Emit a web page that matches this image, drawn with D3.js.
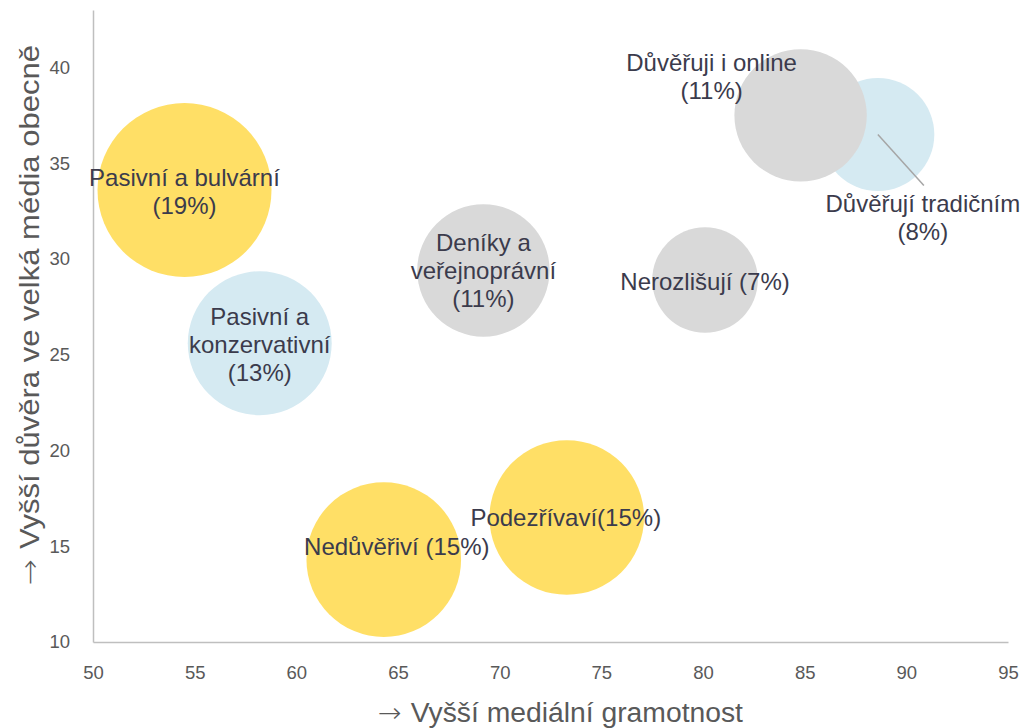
<!DOCTYPE html>
<meta charset="utf-8">
<style>
  body { margin: 0; background: #fff; }
  .tick text { font-family: "Liberation Sans Narrow", "Arial Narrow", "Liberation Sans", Arial, sans-serif; font-size: 18.5px; fill: #595959; }
  .axis-title { font-family: "Liberation Sans Narrow", "Arial Narrow", "Liberation Sans", Arial, sans-serif; font-size: 27px; fill: #595959; }
  .arrow { font-family: "DejaVu Sans", sans-serif; font-weight: 200; }
  .bubble-label { font-family: "Liberation Sans", Arial, sans-serif; font-size: 24px; fill: #3b3b4c; }
</style>
<body>
<div class="chart"></div>

<script src="https://d3js.org/d3.v7.min.js"></script>
<script>

// data
var segments = ["Pasivní a bulvární", "Pasivní a konzervativní", "Deníky a veřejnoprávní",
                "Nedůvěřiví", "Podezřívaví", "Nerozlišují",
                "Důvěřují tradičním", "Důvěřuji i online"];
var literacy = [54.5, 58.2, 69.2, 64.3, 73.3, 80.1, 88.6, 84.8];   // x
var trust    = [33.6, 25.6, 29.4, 14.3, 16.5, 28.9, 36.5, 37.5];   // y
var share    = [19, 13, 11, 15, 15, 7, 8, 11];                      // bubble size (%)
var group    = ["yellow", "blue", "gray", "yellow", "yellow", "gray", "blue", "gray"];
var labelLines = [
  ["Pasivní a bulvární", "(19%)"],
  ["Pasivní a", "konzervativní", "(13%)"],
  ["Deníky a", "veřejnoprávní", "(11%)"],
  ["Nedůvěřiví (15%)"],
  ["Podezřívaví(15%)"],
  ["Nerozlišují (7%)"],
  ["Důvěřují tradičním", "(8%)"],
  ["Důvěřuji i online", "(11%)"]
];
var xTicks = [50, 55, 60, 65, 70, 75, 80, 85, 90, 95];
var yTicks = [10, 15, 20, 25, 30, 35, 40];

var colors = { yellow: "#ffdf66", blue: "#d5eaf2", gray: "#d9d9d9" };

// label offsets from bubble centre (px)
var labelOffset = [[0, -12], [0, -27], [0, -28], [13, -13], [-1, 0], [0, 2], [45, 69], [-89, -53]];

var data = segments.map(function(s, i) {
  return { name: s, x: literacy[i], y: trust[i], size: share[i], group: group[i],
           lines: labelLines[i], off: labelOffset[i] };
});

var W = 1023, H = 728;
var margin = {top: 10, right: 15, bottom: 86, left: 93};
var width = W - margin.left - margin.right,
    height = H - margin.top - margin.bottom;

var x = d3.scaleLinear().domain([50, 95]).range([0, width]);
var y = d3.scaleLinear().domain([10, 43]).range([height, 0]);
var r = d3.scaleSqrt().domain([0, 19]).range([0, 87]);

var svg = d3.select(".chart").append("svg")
    .attr("width", W)
    .attr("height", H)
  .append("g")
    .attr("transform", "translate(" + margin.left + "," + margin.top + ")");

// bubbles (blue "tradičním" drawn under the gray "online")
svg.selectAll(".bubble")
    .data(data)
  .enter().append("circle")
    .attr("class", "bubble")
    .attr("cx", function(d) { return x(d.x); })
    .attr("cy", function(d) { return y(d.y); })
    .attr("r", function(d) { return r(d.size); })
    .style("fill", function(d) { return colors[d.group]; });

// axes
var xAxis = svg.append("g")
    .attr("transform", "translate(0," + height + ")")
    .call(d3.axisBottom(x).tickValues(xTicks).tickSize(0).tickPadding(24));
var yAxis = svg.append("g")
    .call(d3.axisLeft(y).tickValues(yTicks).tickSize(0).tickPadding(23));
[xAxis, yAxis].forEach(function(a) {
  a.select(".domain").attr("stroke", "#bfbfbf").attr("stroke-width", 1.5);
});

// leader line for "Důvěřují tradičním"
var trad = data[6];
svg.append("line")
    .attr("x1", x(trad.x))
    .attr("y1", y(trad.y))
    .attr("x2", x(trad.x) + 46)
    .attr("y2", y(trad.y) + 51)
    .attr("stroke", "#a6a6a6")
    .attr("stroke-width", 1.5);

// bubble labels
var labels = svg.selectAll(".bubble-label")
    .data(data)
  .enter().append("text")
    .attr("class", "bubble-label")
    .attr("text-anchor", "middle")
    .attr("x", function(d) { return x(d.x) + d.off[0]; })
    .attr("y", function(d) { return y(d.y) + d.off[1]; });

labels.each(function(d) {
  var t = d3.select(this);
  d.lines.forEach(function(line, i) {
    t.append("tspan")
      .attr("x", x(d.x) + d.off[0])
      .attr("dy", i === 0 ? "0.35em" : 28)
      .text(line);
  });
});

// axis titles
var xTitle = svg.append("text")
    .attr("class", "axis-title")
    .attr("text-anchor", "middle")
    .attr("x", width / 2 + 10)
    .attr("y", height + 80)
    .attr("textLength", 365)
    .attr("lengthAdjust", "spacingAndGlyphs");
xTitle.append("tspan").attr("class", "arrow").text("→ ");
xTitle.append("tspan").text("Vyšší mediální gramotnost");

var yTitle = svg.append("text")
    .attr("class", "axis-title")
    .attr("text-anchor", "middle")
    .attr("transform", "rotate(-90)")
    .attr("x", -(315 - margin.top))
    .attr("y", -margin.left + 39)
    .attr("textLength", 540)
    .attr("lengthAdjust", "spacingAndGlyphs");
yTitle.append("tspan").attr("class", "arrow").text("→ ");
yTitle.append("tspan").text("Vyšší důvěra ve velká média obecně");

</script>
</body>
